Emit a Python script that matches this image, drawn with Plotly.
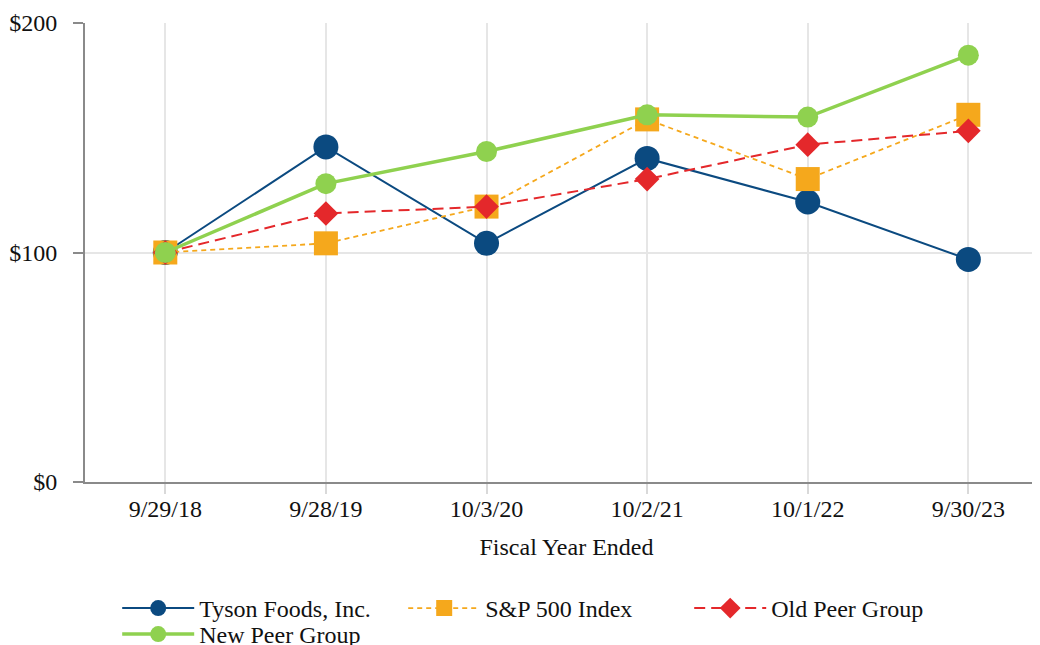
import plotly.graph_objects as go

dates = ["9/29/18", "9/28/19", "10/3/20", "10/2/21", "10/1/22", "9/30/23"]
tyson = [100, 146, 104, 141, 122, 97]
sp500 = [100, 104, 120, 158, 132, 160]
old_peer = [100, 117, 120, 132, 147, 153]
new_peer = [100, 130, 144, 160, 159, 186]
y_ticks = [0, 100, 200]
y_labels = ["$0", "$100", "$200"]

FONT = "Liberation Serif"
FS = 24

fig = go.Figure()
fig.add_trace(go.Scatter(x=dates, y=tyson, name="Tyson Foods, Inc.", mode="lines+markers",
                         line=dict(color="#0B4A80", width=2),
                         marker=dict(symbol="circle", size=25, color="#0B4A80"), legend="legend"))
fig.add_trace(go.Scatter(x=dates, y=sp500, name="S&P 500 Index", mode="lines+markers",
                         line=dict(color="#F5A81C", width=1.8, dash="5px,4px"),
                         marker=dict(symbol="square", size=24, color="#F5A81C"), legend="legend"))
fig.add_trace(go.Scatter(x=dates, y=old_peer, name="Old Peer Group", mode="lines+markers",
                         line=dict(color="#E4282B", width=2, dash="11px,6px"),
                         marker=dict(symbol="diamond", size=19, color="#E4282B"), legend="legend"))
fig.add_trace(go.Scatter(x=dates, y=new_peer, name="New Peer Group", mode="lines+markers",
                         line=dict(color="#8FD14F", width=3.5),
                         marker=dict(symbol="circle", size=21, color="#8FD14F"), legend="legend2"))

leg_common = dict(orientation="h", xref="container", yref="container",
                  xanchor="left", yanchor="top",
                  entrywidth=199, entrywidthmode="pixels", itemwidth=72,
                  font=dict(family=FONT, size=FS, color="#111111"),
                  traceorder="normal", bgcolor="rgba(0,0,0,0)")

fig.update_layout(
    width=1040, height=645,
    margin=dict(l=77, r=0, t=15, b=171),
    paper_bgcolor="white", plot_bgcolor="white",
    font=dict(family=FONT, size=FS, color="#111111"),
    showlegend=True,
    legend=dict(x=0.105, y=1 - 578 / 645, **leg_common),
    legend2=dict(x=0.105, y=1 - 604 / 645, **leg_common),
)
fig.update_xaxes(type="category", range=[-0.5, 5.496], showgrid=True, gridcolor="#E6E6E6", gridwidth=1.5,
                 showline=True, linecolor="#8A8A8A", linewidth=2,
                 ticks="outside", ticklen=10, tickcolor="#D9D9D9", tickwidth=1.5,
                 ticklabelstandoff=-6,
                 title=dict(text="Fiscal Year Ended", font=dict(family=FONT, size=FS), standoff=17),
                 tickfont=dict(family=FONT, size=FS), zeroline=False, automargin=False)
fig.update_yaxes(range=[0, 200], tickmode="array", tickvals=y_ticks, ticktext=y_labels,
                 showgrid=True, gridcolor="#E6E6E6", gridwidth=1.5,
                 showline=True, linecolor="#8A8A8A", linewidth=2,
                 ticks="outside", ticklen=10, tickcolor="#8A8A8A", tickwidth=1.5,
                 ticklabelstandoff=11,
                 tickfont=dict(family=FONT, size=FS), zeroline=False, automargin=False)

fig.write_html("out.html")
